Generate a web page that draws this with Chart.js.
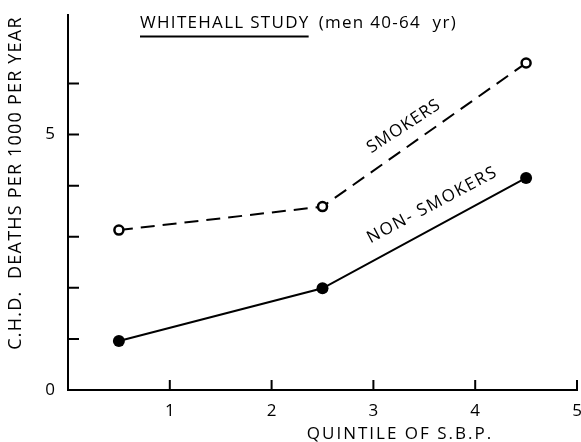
<!DOCTYPE html>
<html>
<head>
<meta charset="utf-8">
<script src="https://cdn.jsdelivr.net/npm/chart.js@4/dist/chart.umd.min.js"></script>
<style>
  html, body { margin: 0; padding: 0; background: #fff; }
  #wrap { width: 581px; height: 442px; }
</style>
</head>
<body>
<div id="wrap"><canvas id="c" width="581" height="442"></canvas></div>
<script>
// Quintile midpoints on the S.B.P. axis
const quintileMid = [0.5, 2.5, 4.5];
// C.H.D. deaths per 1000 per year
const smokers = [3.13, 3.59, 6.40];
const nonSmokers = [0.96, 1.99, 4.15];
// Axis ticks
const xTicks = [1, 2, 3, 4, 5];
const yTicks = [0, 1, 2, 3, 4, 5, 6];
const yTickLabels = { 0: '0', 5: '5' };
// Text
const chartTitle = 'WHITEHALL STUDY';
const chartSubtitle = '(men 40-64  yr)';
const xTitle = 'QUINTILE OF S.B.P.';
const yTitle = 'C.H.D.  DEATHS PER 1000 PER YEAR';
const seriesLabels = [
  { text: 'SMOKERS', x: 3.3, y: 5.16, angle: -33, spacing: 1 },
  { text: 'NON- SMOKERS', x: 3.58, y: 3.62, angle: -28, spacing: 1.6 }
];

const FONT = '"Open Sans", "DejaVu Sans", sans-serif';
const WEIGHT = '500 ';
const INK = '#000';

const toPoints = (ys) => quintileMid.map((x, i) => ({ x, y: ys[i] }));

// Inward tick marks, titles and in-plot series labels
const decor = {
  id: 'decor',
  afterDraw(chart) {
    const { ctx, chartArea, scales } = chart;
    const xs = scales.x, ys = scales.y;
    ctx.save();
    ctx.strokeStyle = INK;
    ctx.lineWidth = 2;
    ctx.beginPath();
    xTicks.forEach(v => {
      const px = xs.getPixelForValue(v);
      ctx.moveTo(px, chartArea.bottom);
      ctx.lineTo(px, chartArea.bottom - 10);
    });
    yTicks.forEach(v => {
      if (v === 0) return;
      const py = ys.getPixelForValue(v);
      ctx.moveTo(chartArea.left, py);
      ctx.lineTo(chartArea.left + 11, py);
    });
    ctx.stroke();

    ctx.fillStyle = INK;
    // Title with underline
    ctx.font = WEIGHT + '17px ' + FONT;
    ctx.letterSpacing = '1.3px';
    ctx.textBaseline = 'alphabetic';
    ctx.textAlign = 'left';
    const tx = 140, ty = 28;
    ctx.fillText(chartTitle, tx, ty);
    const tw = ctx.measureText(chartTitle).width;
    ctx.fillText(chartSubtitle, tx + tw + 9, ty);
    ctx.lineWidth = 1.8;
    ctx.beginPath();
    ctx.moveTo(tx, 36.5);
    ctx.lineTo(tx + tw - 1, 36.5);
    ctx.stroke();

    // Axis titles
    ctx.font = WEIGHT + '17px ' + FONT;
    ctx.letterSpacing = '2px';
    ctx.textAlign = 'center';
    ctx.textBaseline = 'middle';
    ctx.fillText(xTitle, 400, 434);

    ctx.save();
    ctx.translate(16, 183);
    ctx.rotate(-Math.PI / 2);
    ctx.font = WEIGHT + '18px ' + FONT;
    ctx.letterSpacing = '1.2px';
    ctx.fillText(yTitle, 0, 0);
    ctx.restore();

    // Series labels along the lines
    ctx.font = WEIGHT + '17px ' + FONT;
    seriesLabels.forEach(l => {
      ctx.save();
      ctx.letterSpacing = l.spacing + 'px';
      ctx.translate(xs.getPixelForValue(l.x), ys.getPixelForValue(l.y));
      ctx.rotate(l.angle * Math.PI / 180);
      ctx.fillText(l.text, 0, 0);
      ctx.restore();
    });
    ctx.restore();
  }
};

new Chart(document.getElementById('c'), {
  type: 'scatter',
  data: {
    datasets: [
      {
        label: 'Smokers',
        data: toPoints(smokers),
        showLine: true,
        borderColor: INK,
        borderWidth: 2,
        borderDash: [14, 8],
        pointRadius: 4.5,
        pointBorderWidth: 2.5,
        pointBackgroundColor: '#fff',
        pointBorderColor: INK
      },
      {
        label: 'Non-smokers',
        data: toPoints(nonSmokers),
        showLine: true,
        borderColor: INK,
        borderWidth: 2,
        pointRadius: 6,
        pointBorderWidth: 0,
        pointBackgroundColor: INK,
        pointBorderColor: INK
      }
    ]
  },
  options: {
    responsive: false,
    animation: false,
    layout: { autoPadding: false, padding: { top: 15, right: 4, left: 0, bottom: 0 } },
    plugins: { legend: { display: false }, tooltip: { enabled: false }, title: { display: false } },
    scales: {
      x: {
        type: 'linear',
        min: 0,
        max: 5,
        afterBuildTicks: (s) => { s.ticks = xTicks.map(v => ({ value: v })); },
        afterFit: (s) => { s.height = 52; s.paddingLeft = 0; s.paddingRight = 0; },
        ticks: {
          padding: 11,
          color: INK,
          font: { family: FONT, size: 17, weight: '500' },
          maxRotation: 0
        },
        grid: { drawOnChartArea: false, drawTicks: false },
        border: { display: true, color: INK, width: 2 }
      },
      y: {
        type: 'linear',
        min: 0,
        max: 7.34,
        afterBuildTicks: (s) => { s.ticks = yTicks.map(v => ({ value: v })); },
        afterFit: (s) => { s.width = 68; s.paddingTop = 0; s.paddingBottom = 0; },
        ticks: {
          padding: 13,
          color: INK,
          font: { family: FONT, size: 17, weight: '500' },
          callback: (v) => yTickLabels[v] || ''
        },
        grid: { drawOnChartArea: false, drawTicks: false },
        border: { display: true, color: INK, width: 2 }
      }
    }
  },
  plugins: [decor]
});
</script>
</body>
</html>
